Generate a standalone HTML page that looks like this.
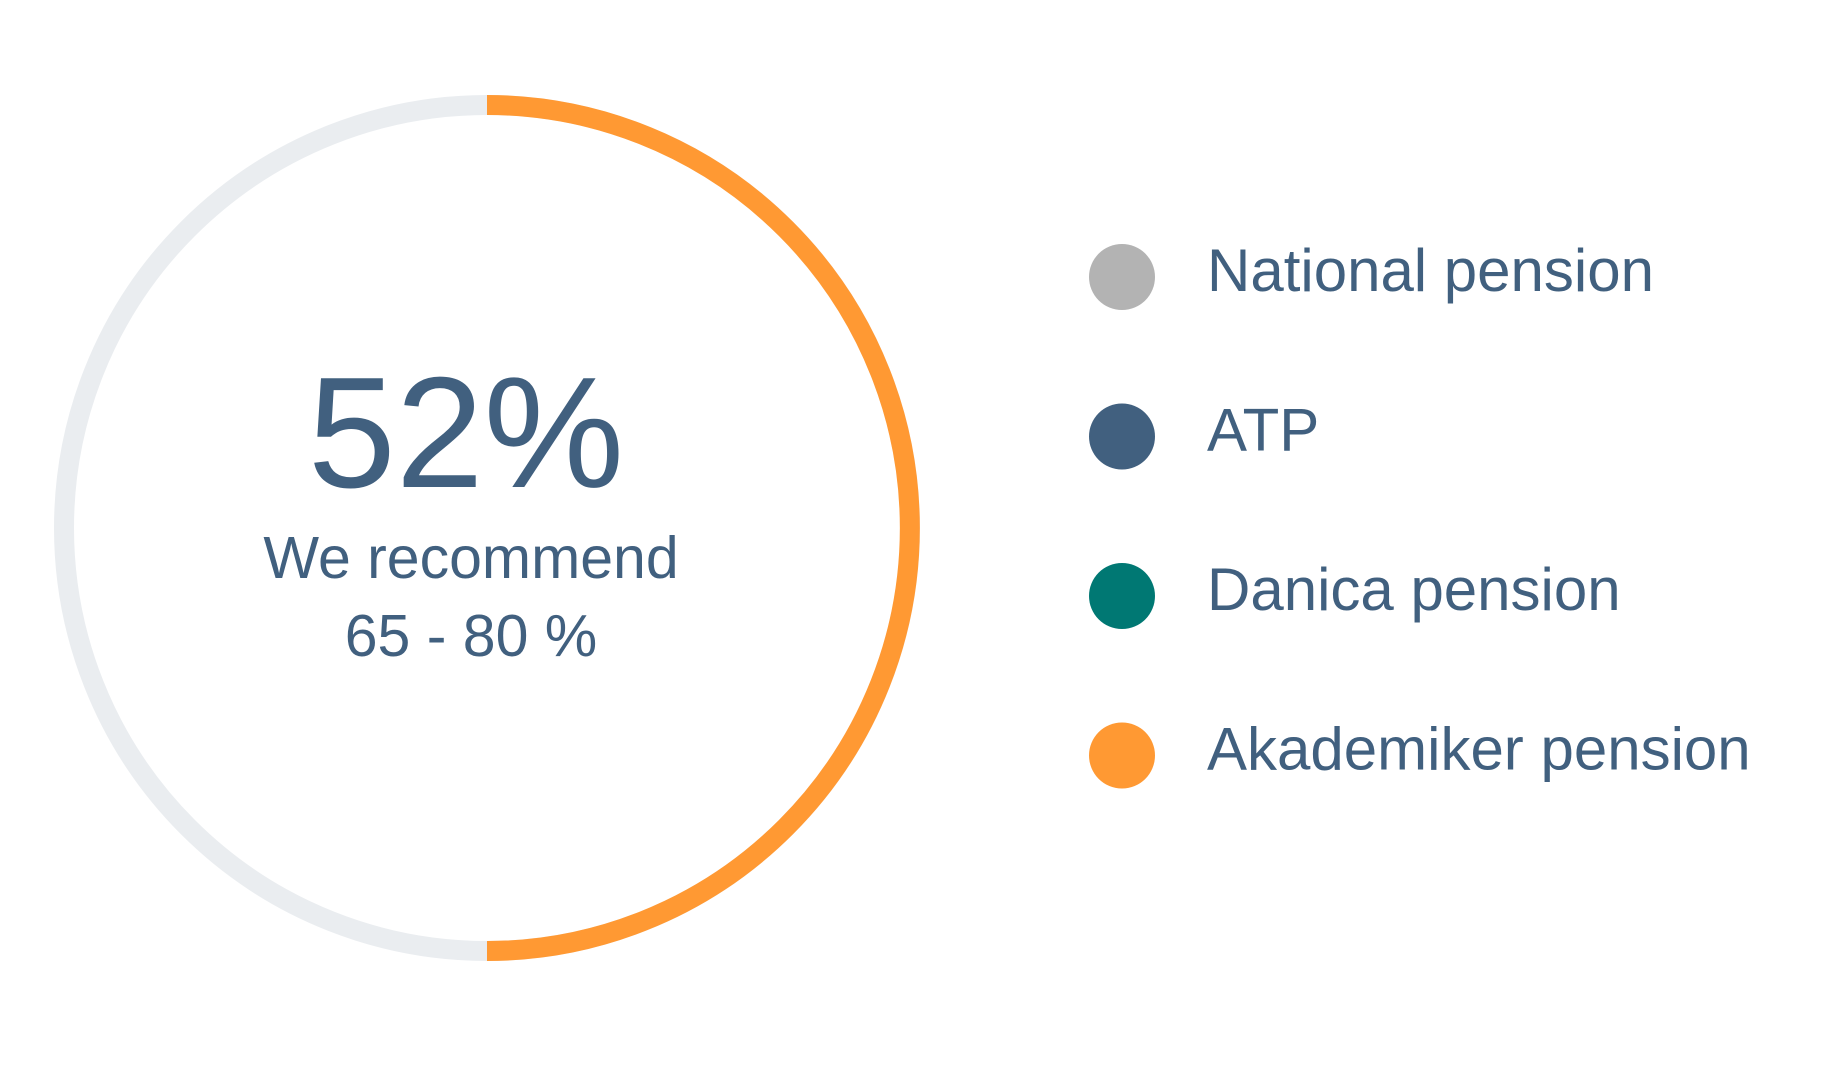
<!DOCTYPE html>
<html><head><meta charset="utf-8"><style>
html,body{margin:0;padding:0;background:#fff;width:1826px;height:1090px;overflow:hidden;font-family:"Liberation Sans",sans-serif;}
</style></head><body>
<svg id="chart" width="1826" height="1090">
<g id="ring"></g>
<text x="466" y="487" text-anchor="middle" font-size="158" fill="#41607f">52%</text>
<text x="471" y="578" text-anchor="middle" font-size="59" fill="#41607f">We recommend</text>
<text x="471" y="656" text-anchor="middle" font-size="59" fill="#41607f">65 - 80 %</text>
<g id="legend"></g>
</svg>
<script>
const categories = ["National pension","ATP","Danica pension","Akademiker pension"];
const colors = ["#b3b3b3","#41607f","#007873","#ff9933"];
const values = [0,0,0,50];
const NS="http://www.w3.org/2000/svg";
const cx=487, cy=528, r=423, sw=20;
const ring=document.getElementById('ring');
const track=document.createElementNS(NS,'circle');
track.setAttribute('cx',cx);track.setAttribute('cy',cy);track.setAttribute('r',r);
track.setAttribute('fill','none');track.setAttribute('stroke','#eaedf0');track.setAttribute('stroke-width',sw);


ring.appendChild(track);
function pt(f){const a=f*2*Math.PI-Math.PI/2;return [cx+r*Math.cos(a),cy+r*Math.sin(a)];}
let acc=0;
values.forEach((v,i)=>{
  if(v<=0)return;
  const s=acc/100,e=(acc+v)/100;acc+=v;
  const p0=pt(s),p1=pt(e);
  const large=(e-s)>0.5?1:0;
  const path=document.createElementNS(NS,'path');
  path.setAttribute('d',`M${p0[0]},${p0[1]} A${r},${r} 0 ${large} 1 ${p1[0]},${p1[1]}`);
  path.setAttribute('fill','none');path.setAttribute('stroke',colors[i]);path.setAttribute('stroke-width',sw);
  
  
  ring.appendChild(path);
});
const lg=document.getElementById('legend');
categories.forEach((c,i)=>{
  const y=277+i*159.5;
  const g=document.createElementNS(NS,'g');
  
  
  const d=document.createElementNS(NS,'circle');
  d.setAttribute('cx',1122);d.setAttribute('cy',y);d.setAttribute('r',33);d.setAttribute('fill',colors[i]);
  
  
  const t=document.createElementNS(NS,'text');
  t.setAttribute('x',1207);t.setAttribute('y',y+14);t.setAttribute('font-size',60);t.setAttribute('fill','#41607f');
  t.textContent=c;
  
  
  g.appendChild(d);g.appendChild(t);lg.appendChild(g);
});
</script>
</body></html>
